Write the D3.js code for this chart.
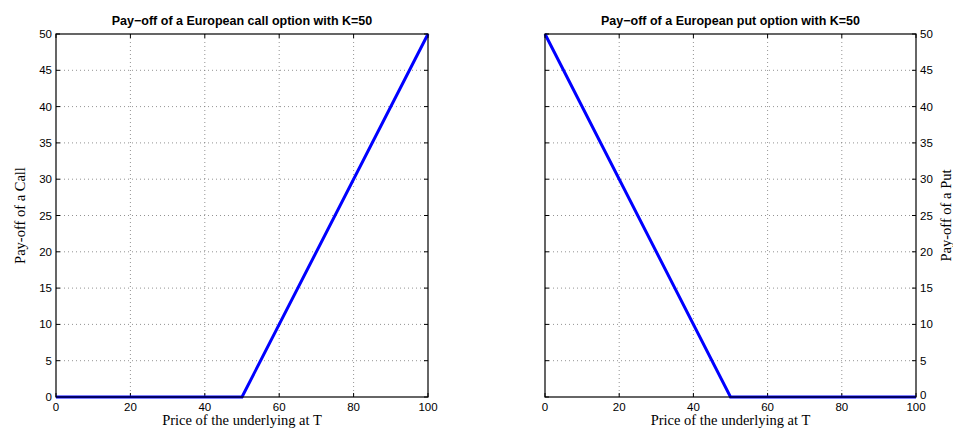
<!DOCTYPE html>
<html><head><meta charset="utf-8">
<script src="https://cdn.jsdelivr.net/npm/d3@7"></script>
<style>body{margin:0;background:#fff}svg{display:block}</style>
</head><body>
<script>
const strike = 50;
const prices = [0, 50, 100];
const callPayoff = [0, 0, 50];
const putPayoff = [50, 0, 0];
const xTicks = [0, 20, 40, 60, 80, 100];
const yTicks = [0, 5, 10, 15, 20, 25, 30, 35, 40, 45, 50];
const titles = ["Pay\u2212off of a European call option with K=50", "Pay\u2212off of a European put option with K=50"];
const yLabels = ["Pay-off of a Call", "Pay-off of a Put"];
const xLabel = "Price of the underlying at T";

const W = 953, H = 431;
const svg = d3.select("body").append("svg").attr("width", W).attr("height", H);

const panels = [
  {x0: 56, x1: 428, vals: callPayoff, title: titles[0], ylab: yLabels[0], side: "left", ylabX: 20},
  {x0: 545, x1: 916, vals: putPayoff, title: titles[1], ylab: yLabels[1], side: "right", ylabX: 946}
];
const plotTop = 34, plotBottom = 397;

panels.forEach(p => {
  const x = d3.scaleLinear().domain([0, 100]).range([p.x0, p.x1]);
  const y = d3.scaleLinear().domain([0, 50]).range([plotBottom, plotTop]);
  const g = svg.append("g");
  // grid
  g.selectAll(".gx").data(xTicks.slice(1, -1)).join("line")
    .attr("x1", d => x(d)).attr("x2", d => x(d)).attr("y1", plotTop).attr("y2", plotBottom)
    .attr("stroke", "#777").attr("stroke-width", 0.8).attr("stroke-dasharray", "1,3");
  g.selectAll(".gy").data(yTicks.slice(1, -1)).join("line")
    .attr("y1", d => y(d)).attr("y2", d => y(d)).attr("x1", p.x0).attr("x2", p.x1)
    .attr("stroke", "#777").attr("stroke-width", 0.8).attr("stroke-dasharray", "1,3");
  // ticks on all sides (inward)
  const tl = 4;
  xTicks.forEach(d => {
    g.append("line").attr("x1", x(d)).attr("x2", x(d)).attr("y1", plotBottom).attr("y2", plotBottom - tl).attr("stroke", "#000");
    g.append("line").attr("x1", x(d)).attr("x2", x(d)).attr("y1", plotTop).attr("y2", plotTop + tl).attr("stroke", "#000");
  });
  yTicks.forEach(d => {
    g.append("line").attr("y1", y(d)).attr("y2", y(d)).attr("x1", p.x0).attr("x2", p.x0 + tl).attr("stroke", "#000");
    g.append("line").attr("y1", y(d)).attr("y2", y(d)).attr("x1", p.x1).attr("x2", p.x1 - tl).attr("stroke", "#000");
  });
  // data line
  const line = d3.line().x((d, i) => x(prices[i])).y(d => y(d));
  g.append("path").datum(p.vals).attr("d", line).attr("fill", "none")
    .attr("stroke", "#0000ff").attr("stroke-width", 3);
  // box
  g.append("rect").attr("x", p.x0).attr("y", plotTop).attr("width", p.x1 - p.x0).attr("height", plotBottom - plotTop)
    .attr("fill", "none").attr("stroke", "#000").attr("stroke-width", 1.2);
  // tick labels
  g.selectAll(".xl").data(xTicks).join("text")
    .attr("x", d => x(d)).attr("y", plotBottom + 14).attr("text-anchor", "middle")
    .attr("font-family", "Liberation Sans, Arial, sans-serif").attr("font-size", 11.5).text(d => d);
  g.selectAll(".yl").data(yTicks).join("text")
    .attr("x", p.side === "left" ? p.x0 - 4 : p.x1 + 4).attr("y", d => y(d) + (p.side === "right" && d === 0 ? 2 : 4))
    .attr("text-anchor", p.side === "left" ? "end" : "start")
    .attr("font-family", "Liberation Sans, Arial, sans-serif").attr("font-size", 11.5).text(d => d);
  // title
  g.append("text").attr("x", (p.x0 + p.x1) / 2).attr("y", 25).attr("text-anchor", "middle")
    .attr("font-family", "Liberation Sans, Arial, sans-serif").attr("font-weight", "bold").attr("font-size", 12.5)
    .text(p.title);
  // x label
  g.append("text").attr("x", (p.x0 + p.x1) / 2).attr("y", 425).attr("text-anchor", "middle")
    .attr("font-family", "Liberation Serif, Times New Roman, serif").attr("font-size", 14.5).text(xLabel);
  // y label
  g.append("text").attr("transform", `translate(${p.ylabX},${(plotTop + plotBottom) / 2}) rotate(-90)`)
    .attr("text-anchor", "middle").attr("dy", "0.35em")
    .attr("font-family", "Liberation Serif, Times New Roman, serif").attr("font-size", 14.5).text(p.ylab);
});
</script>
</body></html>
